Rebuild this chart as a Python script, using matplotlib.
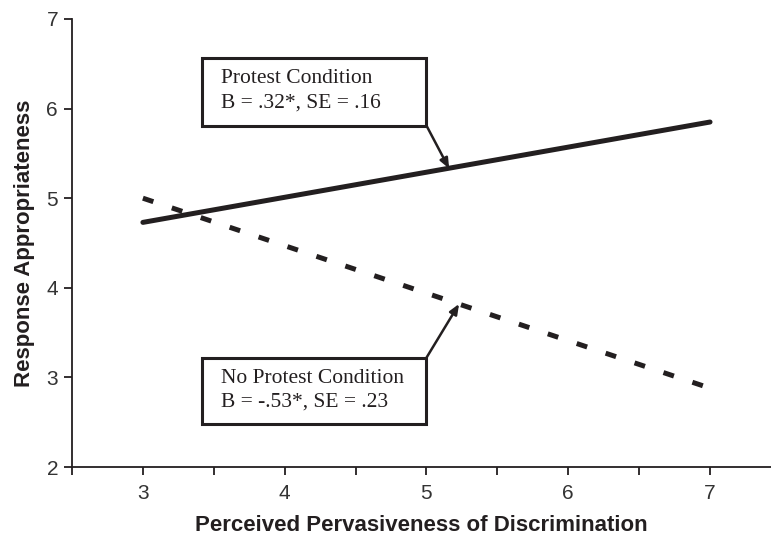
import matplotlib
matplotlib.use('Agg')
import matplotlib.pyplot as plt
import numpy as np
from matplotlib.ticker import MultipleLocator
from matplotlib.patches import Rectangle

# simple slopes: predicted response appropriateness at low/high pervasiveness
x_ends = [3, 7]
protest = [4.73, 5.85]
no_protest = [5.00, 2.88]

protest_label = 'Protest Condition\nB = .32*, SE = .16'
noprotest_label = 'No Protest Condition\nB = -.53*, SE = .23'

ink = '#231f20'
serif = ['Liberation Serif', 'DejaVu Serif']
sans = ['Liberation Sans', 'DejaVu Sans']

fig = plt.figure(figsize=(7.71, 5.36), dpi=100)
ax = fig.add_axes([0.0934, 0.1287, 0.9066, 0.8359])

ax.plot(x_ends, protest, color=ink, lw=3.6, solid_capstyle='round')
ax.plot(x_ends, no_protest, color=ink, lw=3.6, linestyle=(0, (2.2, 3.9)))

ax.set_xlim(2.5, 7.43)
ax.set_ylim(2, 7)
ax.set_xticks([3, 4, 5, 6, 7])
ax.xaxis.set_minor_locator(MultipleLocator(0.5))
ax.set_yticks([2, 3, 4, 5, 6, 7])
ax.tick_params(axis='both', which='both', direction='out', length=6, width=1.3,
               color=ink, labelsize=15, labelcolor='#333333', pad=4)
ax.tick_params(axis='x', which='major', pad=6)
for lab in ax.get_xticklabels() + ax.get_yticklabels():
    lab.set_family(sans)
for s in ['top', 'right']:
    ax.spines[s].set_visible(False)
for s in ['left', 'bottom']:
    ax.spines[s].set_linewidth(1.3)
    ax.spines[s].set_color(ink)

ax.set_xlabel('Perceived Pervasiveness of Discrimination', family=sans,
              fontsize=16, fontweight='bold', color=ink, labelpad=9)
ax.set_ylabel('Response Appropriateness', family=sans,
              fontsize=16, fontweight='bold', color=ink, labelpad=8)

# callout boxes
for (x0, y0, y1), txt, ty in [((3.42, 5.81, 6.56), protest_label, 6.2),
                              ((3.42, 2.48, 3.22), noprotest_label, 2.86)]:
    ax.add_patch(Rectangle((x0, y0), 5.0 - x0, y1 - y0, facecolor='white',
                           edgecolor=ink, lw=2.2, zorder=3))
    ax.text(3.55, ty, txt, family=serif, fontsize=15.5, color=ink,
            ha='left', va='center', linespacing=1.35, zorder=4)

arrow = dict(arrowstyle='-|>,head_length=0.6,head_width=0.25', color=ink, lw=1.8,
             shrinkA=0, shrinkB=0)
ax.annotate('', xy=(5.16, 5.33), xytext=(5.0, 5.81), arrowprops=arrow)
ax.annotate('', xy=(5.23, 3.82), xytext=(5.0, 3.22), arrowprops=arrow)

fig.savefig('out.png', dpi=100)
